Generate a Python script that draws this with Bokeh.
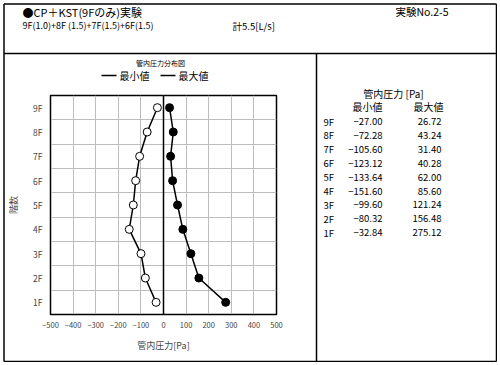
from bokeh.plotting import figure
from bokeh.models import Range1d, FixedTicker, Span
from bokeh.core.properties import value
from bokeh.embed import file_html
from bokeh.resources import INLINE

# ---- data ----
floors = [9, 8, 7, 6, 5, 4, 3, 2, 1]
floor_labels = ["9F", "8F", "7F", "6F", "5F", "4F", "3F", "2F", "1F"]
min_vals = [-27.00, -72.28, -105.60, -123.12, -133.64, -151.60, -99.60, -80.32, -32.84]
max_vals = [26.72, 43.24, 31.40, 40.28, 62.00, 85.60, 121.24, 156.48, 275.12]
x_ticks = [-500, -400, -300, -200, -100, 0, 100, 200, 300, 400, 500]
series_names = ["最小値", "最大値"]

FONT = "Noto Sans CJK JP"

# figure geometry (page coordinates)
FIG_X0, FIG_Y0 = 3, 3
W, H = 494, 359
FL, FR, FT, FB = 50, 276, 95, 314
XMIN, XMAX, YMIN, YMAX = -500, 500, 0.5, 9.5

p = figure(width=W, height=H, output_backend="svg", toolbar_location=None,
           x_range=Range1d(XMIN, XMAX), y_range=Range1d(YMIN, YMAX),
           min_border_left=FL - FIG_X0, min_border_right=W - (FR - FIG_X0),
           min_border_top=FT - FIG_Y0, min_border_bottom=H - (FB - FIG_Y0))
p.styles = {"margin": "3px -10px -15px 3px"}
p.outline_line_color = "black"
p.outline_line_width = 1.5
p.background_fill_color = "white"
p.border_fill_color = "white"


def dx(px):
    return XMIN + (px - FL) * (XMAX - XMIN) / (FR - FL)


def dy(py):
    return YMIN + (FB - py) * (YMAX - YMIN) / (FB - FT)


# axes
p.xaxis.ticker = FixedTicker(ticks=x_ticks)
p.yaxis.ticker = FixedTicker(ticks=floors)
p.yaxis.major_label_overrides = {f: l for f, l in zip(floors, floor_labels)}
for ax in (p.xaxis[0], p.yaxis[0]):
    ax.major_tick_line_color = None
    ax.minor_tick_line_color = None
    ax.axis_line_color = "black"
    ax.major_label_text_font = FONT
    ax.axis_label_text_font = FONT
    ax.axis_label_text_font_style = "normal"
    ax.major_tick_out = 0
    ax.major_tick_in = 0
p.xaxis.major_label_text_font_size = "7.5px"
p.yaxis.major_label_text_font_size = "8.5px"
p.xaxis.major_label_standoff = 7
p.yaxis.major_label_standoff = 8
p.xaxis.axis_label = "管内圧力[Pa]"
p.yaxis.axis_label = "階数"
p.xaxis.axis_label_text_font_size = "9px"
p.yaxis.axis_label_text_font_size = "9px"
p.xaxis.axis_label_standoff = 8
p.yaxis.axis_label_standoff = 10

# grid
p.xgrid.ticker = FixedTicker(ticks=x_ticks)
p.ygrid.ticker = FixedTicker(ticks=[f + 0.5 for f in floors[1:]])
p.xgrid.grid_line_color = "#bdbdbd"
p.ygrid.grid_line_color = "#bdbdbd"
p.add_layout(Span(location=0, dimension="height", line_color="black", line_width=1.5))

# series
p.line(min_vals, floors, line_color="black", line_width=1.5)
p.scatter(min_vals, floors, marker="circle", size=8, fill_color="white",
          line_color="black", line_width=1)
p.line(max_vals, floors, line_color="black", line_width=1.5)
p.scatter(max_vals, floors, marker="circle", size=8, fill_color="black",
          line_color="black", line_width=1)


def txt(text, x, y, size, align="left"):
    p.text(x=[dx(x)], y=[dy(y)], text=[text], text_font=value(FONT),
           text_font_size=value(size), text_align=align, text_baseline="middle",
           text_color="black", level="overlay")


# legend (drawn beside the title, outside the frame)
leg_x = [101, 160]
leg_fill = ["white", "black"]
for lx, fill, name in zip(leg_x, leg_fill, series_names):
    p.segment([dx(lx)], [dy(75)], [dx(lx + 15)], [dy(75)], line_color="black",
              line_width=1.5, level="overlay")
    p.scatter([dx(lx + 7.5)], [dy(75)], marker="circle", size=6, fill_color=fill,
              line_color="black", line_width=1, level="overlay")
    txt(name, lx + 18, 75, "10px")

# header texts
txt("●CP＋KST(9Fのみ)実験", 22, 11, "11px")
txt("実験No.2-5", 395, 11, "10.5px")
txt("9F(1.0)+8F (1.5)+7F(1.5)+6F(1.5)", 22, 25, "9px")
txt("計5.5[L/s]", 232, 25, "9.5px")
txt("管内圧力分布図", 160, 62, "7px", "center")

# table
txt("管内圧力 [Pa]", 393, 93, "10px", "center")
txt(series_names[0], 367, 106, "10px", "center")
txt(series_names[1], 428, 106, "10px", "center")
for i, (fl, mn, mx) in enumerate(zip(floor_labels, min_vals, max_vals)):
    yy = 121 + i * 13.9
    txt(fl, 323, yy, "9.5px")
    txt(f"{mn:.2f}".replace("-", "−"), 382, yy, "9.5px", "right")
    txt(f"{mx:.2f}", 441, yy, "9.5px", "right")

# page frame lines
x0s = [3.5, 3.5, 3.5, 496, 3.5, 316]
y0s = [3.5, 361, 3.5, 3.5, 53, 53]
x1s = [496, 496, 3.5, 496, 496, 316]
y1s = [3.5, 361, 361, 361, 53, 361]
p.segment([dx(v) for v in x0s], [dy(v) for v in y0s], [dx(v) for v in x1s], [dy(v) for v in y1s],
          line_color="black", line_width=1.5, level="overlay")

open("out.html", "w").write(file_html(p, INLINE))
